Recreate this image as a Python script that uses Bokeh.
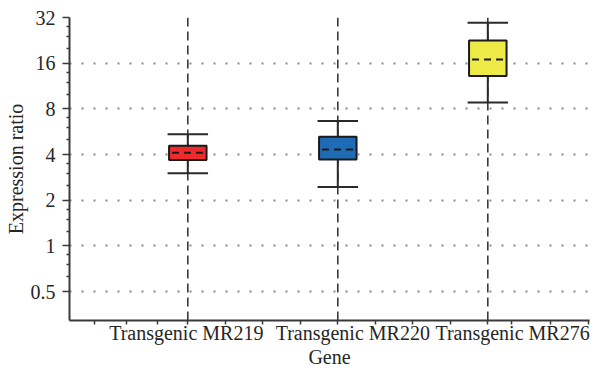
from bokeh.plotting import figure
from bokeh.models import Range1d, FixedTicker, NumeralTickFormatter, Span, LinearAxis
from bokeh.embed import file_html
from bokeh.resources import INLINE

# ---- data ----
genes = ["Transgenic MR219", "Transgenic MR220", "Transgenic MR276"]
xpos = [1, 2, 3]
whisker_low = [3.01, 2.45, 8.8]
q1 = [3.68, 3.71, 13.2]
median = [4.12, 4.32, 16.9]
q3 = [4.57, 5.24, 22.6]
whisker_high = [5.44, 6.66, 29.5]
colors = ["#EE2A2C", "#1E6CB6", "#EEEA46"]
y_ticks = [0.5, 1, 2, 4, 8, 16, 32]

# ---- styles ----
FONT = "Liberation Serif"
TXT = "#262626"
AX = "#3a3a3a"
box_w = 0.25
cap_half = 0.135
label_offset = [-0.01, 0.10, 0.165]   # tick labels are spread out in the original

p = figure(width=590, height=370, output_backend="svg", toolbar_location=None,
           y_axis_type="log",
           x_range=Range1d(0.2113, 3.678), y_range=Range1d(0.323, 32),
           min_border_left=69, min_border_right=1, min_border_top=17,
           min_border_bottom=49)
p.outline_line_color = None
p.background_fill_color = "white"
p.border_fill_color = "white"

for x in xpos:
    s = Span(location=x, dimension="height", line_color="#3a3a3a",
             line_width=1.6, line_dash="9 5", level="underlay")
    p.add_layout(s)

p.segment(x0=xpos, y0=whisker_low, x1=xpos, y1=q1, line_color="#2a2a2a", line_width=2)
p.segment(x0=xpos, y0=q3, x1=xpos, y1=whisker_high, line_color="#2a2a2a", line_width=2)
xl = [x - cap_half for x in xpos]
xr = [x + cap_half for x in xpos]
p.segment(x0=xl, y0=whisker_low, x1=xr, y1=whisker_low, line_color="#2a2a2a", line_width=2)
p.segment(x0=xl, y0=whisker_high, x1=xr, y1=whisker_high, line_color="#2a2a2a", line_width=2)
p.vbar(x=xpos, width=box_w, bottom=q1, top=q3, fill_color=colors,
       line_color="#1a1a1a", line_width=2)
bl = [x - box_w / 2 + 0.02 for x in xpos]
br = [x + box_w / 2 - 0.02 for x in xpos]
p.segment(x0=bl, y0=median, x1=br, y1=median, line_color="#1a1a1a",
          line_width=2, line_dash="7 5")

# y axis
minor_y = [t * f for t in y_ticks[:-1] for f in (1.25, 1.5, 1.75)]
yax = p.yaxis[0]
yax.ticker = FixedTicker(ticks=y_ticks, minor_ticks=minor_y)
yax.formatter = NumeralTickFormatter(format="0.[0]")
yax.axis_label = "Expression ratio"
yax.major_tick_out = 7
yax.major_tick_in = 0
yax.minor_tick_out = 3
yax.minor_tick_in = 0
yax.major_label_standoff = 7
yax.axis_label_standoff = 1

# x axis: tick marks only (no labels)
xax = p.xaxis[0]
minor_x = [0.38, 0.59, 0.8, 1.25, 1.5, 1.75, 2.25, 2.5, 2.75, 3.16, 3.42, 3.67]
xax.ticker = FixedTicker(ticks=[], minor_ticks=sorted(xpos + minor_x))
xax.major_label_standoff = 0
xax.major_tick_out = 6
xax.major_tick_in = 0
xax.minor_tick_out = 4
xax.minor_tick_in = 0

for ax in (xax, yax):
    ax.axis_line_color = AX
    ax.axis_line_width = 2
    ax.major_tick_line_color = AX
    ax.minor_tick_line_color = AX
    ax.major_tick_line_width = 1.5
    ax.minor_tick_line_width = 1.5
yax.major_label_text_font = FONT
yax.major_label_text_font_size = "20px"
yax.major_label_text_color = TXT

# category labels axis
label_pos = [x + o for x, o in zip(xpos, label_offset)]
lab = LinearAxis(ticker=FixedTicker(ticks=label_pos, minor_ticks=[]),
                 major_label_overrides={v: g for v, g in zip(label_pos, genes)},
                 axis_line_color=None, major_tick_line_color=None,
                 minor_tick_line_color=None, major_tick_out=0, major_tick_in=0,
                 minor_tick_out=0, minor_tick_in=0,
                 major_label_standoff=-3, axis_label="Gene",
                 axis_label_standoff=-1)
p.add_layout(lab, "below")

for ax in (lab, yax):
    ax.axis_label_text_font = FONT
    ax.axis_label_text_font_size = "20px"
    ax.axis_label_text_font_style = "normal"
    ax.axis_label_text_color = TXT
lab.major_label_text_font = FONT
lab.major_label_text_font_size = "20px"
lab.major_label_text_color = TXT

p.xgrid.grid_line_color = None
p.ygrid.grid_line_color = "#8a8a8a"
p.ygrid.grid_line_width = 2
p.ygrid.grid_line_dash = "2 10"

open("out.html", "w").write(file_html(p, INLINE))
